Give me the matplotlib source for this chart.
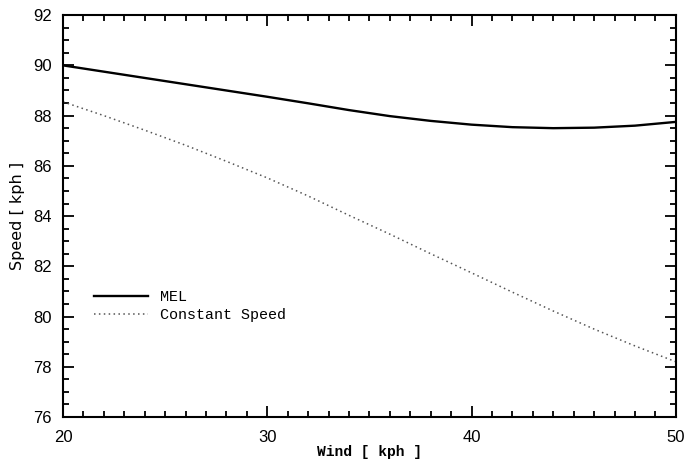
import matplotlib
matplotlib.use("Agg")
import matplotlib.pyplot as plt
from matplotlib.ticker import MultipleLocator

# Data
mel_wind = [20, 22, 24, 26, 28, 30, 32, 34, 36, 38, 40, 42, 44, 46, 48, 50]
mel_speed = [90.00, 89.75, 89.50, 89.25, 89.00, 88.75, 88.49, 88.22, 87.98, 87.79, 87.64, 87.54, 87.50, 87.52, 87.60, 87.75]

cs_wind = [20, 22, 24, 26, 28, 30, 32, 34, 36, 38, 40, 42, 44, 46, 48, 50]
cs_speed = [88.55, 88.00, 87.42, 86.82, 86.18, 85.52, 84.80, 84.03, 83.28, 82.50, 81.74, 80.97, 80.22, 79.50, 78.83, 78.20]

xlabel = "Wind [ kph ]"
ylabel = "Speed [ kph ]"
labels = ["MEL", "Constant Speed"]

fig = plt.figure(figsize=(6.96, 4.59), dpi=100)
ax = fig.add_axes([0.0905, 0.0915, 0.8805, 0.8755])

ax.plot(mel_wind, mel_speed, color="black", lw=1.7, label=labels[0])
ax.plot(cs_wind, cs_speed, color="#555555", lw=1.1, linestyle=(0, (1, 2.2)), label=labels[1])

ax.set_xlim(20, 50)
ax.set_ylim(76, 92)
ax.xaxis.set_major_locator(MultipleLocator(10))
ax.xaxis.set_minor_locator(MultipleLocator(1))
ax.yaxis.set_major_locator(MultipleLocator(2))
ax.yaxis.set_minor_locator(MultipleLocator(0.5))
ax.tick_params(which="both", direction="in", top=True, right=True, width=1.3)
ax.tick_params(which="major", length=8)
ax.tick_params(axis="y", which="major", pad=8)
ax.tick_params(axis="x", which="major", pad=9)
ax.tick_params(which="minor", length=4)
for lab in ax.get_xticklabels() + ax.get_yticklabels():
    lab.set_fontfamily("Liberation Sans")
    lab.set_fontsize(12)
for s in ax.spines.values():
    s.set_linewidth(1.5)

ax.set_xlabel(xlabel, family="Liberation Mono", fontweight="bold", fontsize=10.5, va="center")
ax.xaxis.set_label_coords(0.5, -0.087)
ax.set_ylabel(ylabel, family="DejaVu Sans", fontsize=11.5, labelpad=6)

leg = ax.legend(loc="upper left", bbox_to_anchor=(0.038, 0.335), frameon=False,
                handlelength=3.6, handletextpad=0.8, borderpad=0, labelspacing=0.3,
                prop={"family": "Liberation Mono", "size": 10.8})

fig.savefig("out.png", dpi=100)
